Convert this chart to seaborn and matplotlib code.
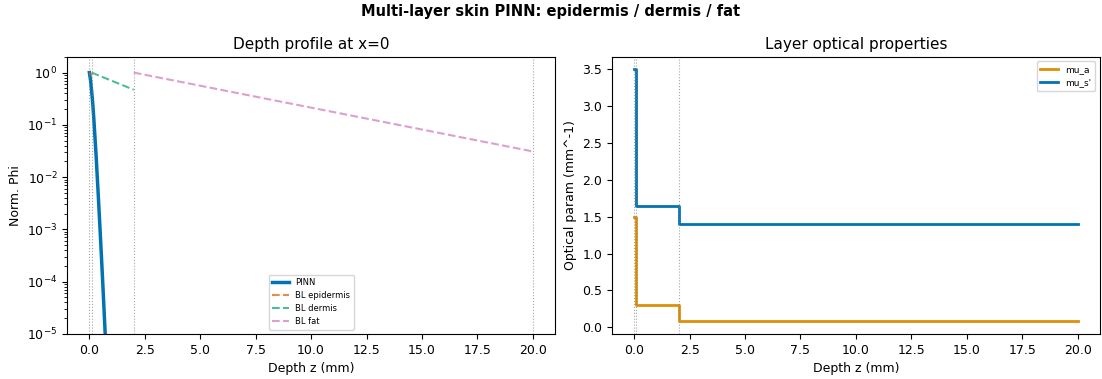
import numpy as np
import pandas as pd
import seaborn as sns
import matplotlib
matplotlib.use("Agg")
import matplotlib.pyplot as plt

plt.style.use("default")
plt.rcParams['font.family'] = ['DejaVu Sans']

# ---- data ----
layer_bounds = [0.0, 0.1, 2.0, 20.0]

pinn_z = [0.0, 0.05, 0.1, 0.15, 0.2, 0.3, 0.4, 0.5, 0.6, 0.7, 0.8, 1.0]
pinn_phi = [1.0, 0.72, 0.45, 0.26, 0.13, 0.027, 0.0045, 0.0007, 0.0001, 1.3e-5, 1.6e-6, 2.5e-8]

bl_epi_z = [0.0, 0.1]
bl_epi_phi = [1.0, 0.88]
bl_der_z = [0.1, 2.0]
bl_der_phi = [1.0, 0.47]
bl_fat_z = [2.0, 20.0]
bl_fat_phi = [1.0, 0.031]

mu_a_vals = [1.5, 0.3, 0.08]
mu_s_vals = [3.5, 1.65, 1.4]

pal = sns.color_palette("colorblind")

fig, (ax1, ax2) = plt.subplots(1, 2, figsize=(11.02, 3.79), dpi=100)

# ---- left ----
sns.lineplot(x=pinn_z, y=pinn_phi, ax=ax1, color=pal[0], lw=2.5, label="PINN")
sns.lineplot(x=bl_epi_z, y=bl_epi_phi, ax=ax1, color=pal[3], lw=1.5, ls="--", alpha=0.7, label="BL epidermis")
sns.lineplot(x=bl_der_z, y=bl_der_phi, ax=ax1, color=pal[2], lw=1.5, ls="--", alpha=0.7, label="BL dermis")
sns.lineplot(x=bl_fat_z, y=bl_fat_phi, ax=ax1, color=pal[4], lw=1.5, ls="--", alpha=0.7, label="BL fat")
for b in layer_bounds:
    ax1.axvline(b, color="gray", ls=":", lw=0.8, alpha=0.7)
ax1.set_yscale("log")
ax1.set_ylim(1e-5, 2)
ax1.set_xlim(-1, 21)
ax1.set_xlabel("Depth z (mm)", fontsize=9)
ax1.set_ylabel("Norm. Phi", fontsize=9)
ax1.set_title("Depth profile at x=0", fontsize=11)
ax1.tick_params(labelsize=9)
ax1.legend(fontsize=6, loc="lower center")

# ---- right ----
step_z = [layer_bounds[0], layer_bounds[1], layer_bounds[1], layer_bounds[2], layer_bounds[2], layer_bounds[3]]
mu_a_line = [mu_a_vals[0], mu_a_vals[0], mu_a_vals[1], mu_a_vals[1], mu_a_vals[2], mu_a_vals[2]]
mu_s_line = [mu_s_vals[0], mu_s_vals[0], mu_s_vals[1], mu_s_vals[1], mu_s_vals[2], mu_s_vals[2]]
df = pd.DataFrame({"z": step_z, "mu_a": mu_a_line, "mu_s": mu_s_line})
ax2.plot(df["z"], df["mu_a"], color=pal[1], lw=2, label="mu_a")
ax2.plot(df["z"], df["mu_s"], color=pal[0], lw=2, label="mu_s'")
for b in layer_bounds[:3]:
    ax2.axvline(b, color="gray", ls=":", lw=0.8, alpha=0.7)
ax2.set_xlim(-1, 21)
ax2.set_xlabel("Depth z (mm)", fontsize=9)
ax2.set_ylabel("Optical param (mm^-1)", fontsize=9)
ax2.set_title("Layer optical properties", fontsize=11)
ax2.tick_params(labelsize=9)
ax2.legend(fontsize=6.5, loc="upper right")

fig.suptitle("Multi-layer skin PINN: epidermis / dermis / fat", fontsize=10.5, fontweight="bold", y=0.99)
fig.subplots_adjust(left=0.061, right=0.998, bottom=0.119, top=0.850, wspace=0.117)
fig.savefig("out.png", dpi=100)
